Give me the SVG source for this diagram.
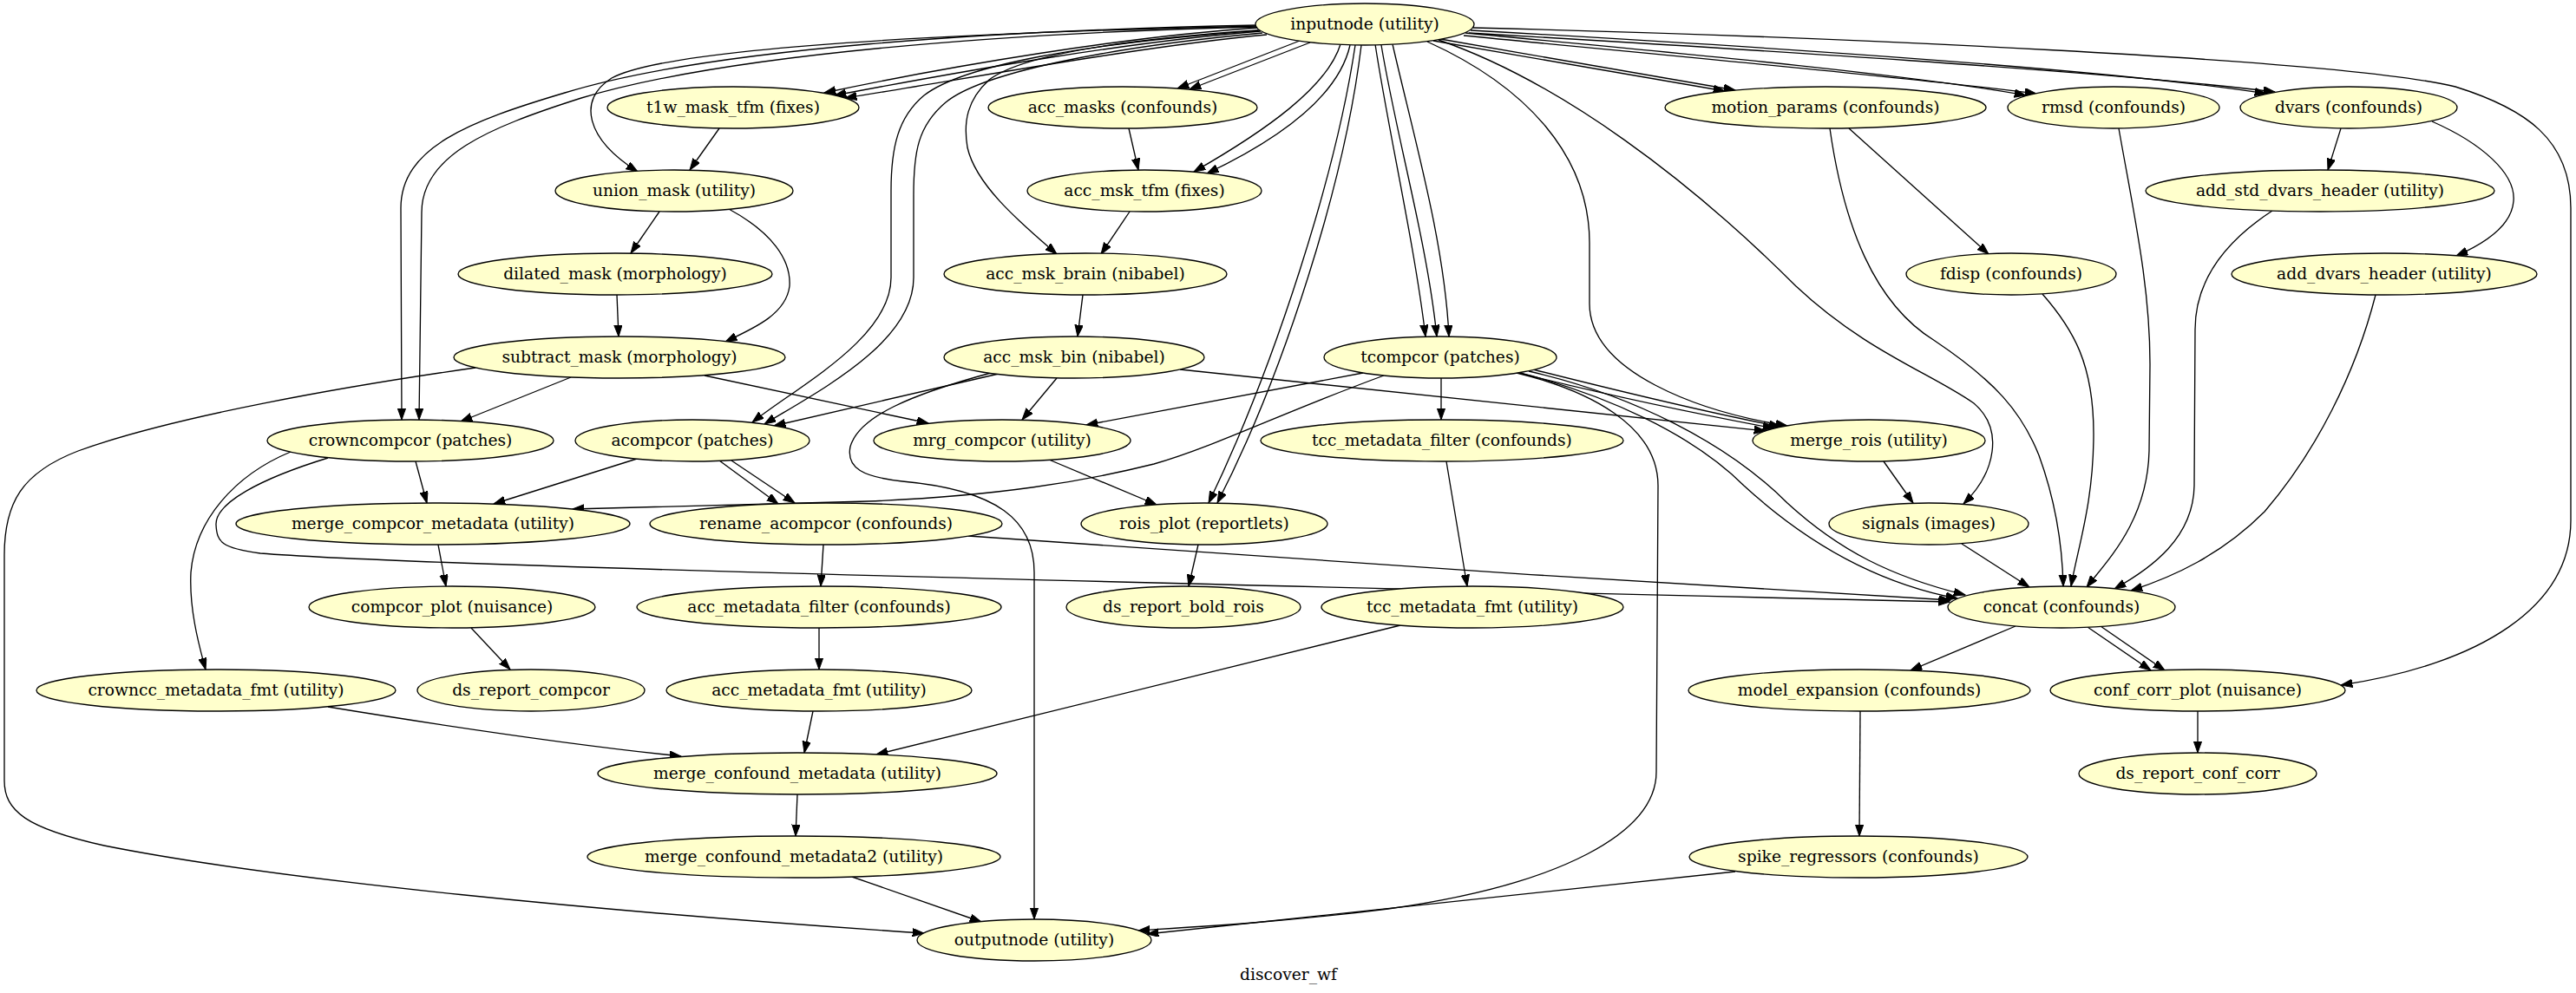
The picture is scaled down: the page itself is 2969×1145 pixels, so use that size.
<svg xmlns="http://www.w3.org/2000/svg" width="2969" height="1145" viewBox="0 0 2969 1145">
<style>
.node ellipse{fill:#ffffcc;stroke:#000;stroke-width:1.33}
.node text,.lbl{font-family:"DejaVu Serif","Liberation Serif",serif;font-size:18.67px;text-anchor:middle;fill:#000}
#edges path{fill:none;stroke:#000;stroke-width:1.33;marker-end:url(#ah)}
</style>
<defs>
<marker id="ah" markerUnits="userSpaceOnUse" markerWidth="14" markerHeight="10" refX="13.3" refY="4.7" orient="auto"><path d="M0,0 L13.3,4.7 L0,9.4 z" fill="#000" stroke="#000" stroke-width="1"/></marker>
</defs>
<rect width="2969" height="1145" fill="#fff"/>
<g id="edges">
<path d="M1450,32 C1300,42 1100,75 950,107"/>
<path d="M1453,36 C1300,48 1110,82 962,110"/>
<path d="M1460,40 C1310,54 1120,90 974,113"/>
<path d="M1449,30 C1100,38 770,55 705,90 C665,115 675,160 735,198"/>
<path d="M1449,29 C1150,35 820,55 651,107 C540,140 462,170 462,240 L463,484"/>
<path d="M1449,31 C1160,38 840,62 670,113 C560,148 486,180 486,245 L483,484"/>
<path d="M1452,35 C1250,50 1110,75 1065,110 C1035,135 1027,170 1027,220 L1027,320 C1027,390 920,445 867,487"/>
<path d="M1455,38 C1270,55 1130,85 1090,118 C1058,145 1053,175 1053,225 L1053,320 C1053,395 945,450 881,489"/>
<path d="M1450,35 C1300,45 1180,62 1140,92 C1115,115 1110,140 1115,170 C1125,215 1180,260 1218,293"/>
<path d="M1498,47 L1357,102"/>
<path d="M1510,49 L1371,103"/>
<path d="M1545,51 C1530,100 1460,150 1376,198"/>
<path d="M1556,52 C1543,110 1475,160 1391,200"/>
<path d="M1562,52 C1540,200 1470,420 1393,580"/>
<path d="M1569,52 C1550,210 1480,430 1403,580"/>
<path d="M1585,51 C1600,150 1630,280 1643,388"/>
<path d="M1592,52 C1610,160 1645,280 1656,388"/>
<path d="M1605,51 C1630,160 1665,280 1670,388"/>
<path d="M1645,48 C1760,100 1832,180 1832,280 L1832,350 C1832,430 1960,475 2060,491"/>
<path d="M1658,46 C1800,95 1950,210 2070,330 C2150,405 2225,430 2275,465 C2310,495 2300,545 2263,581"/>
<path d="M1652,47 L1988,105"/>
<path d="M1660,45 L2000,104"/>
<path d="M1689,38 C1900,58 2200,85 2335,110"/>
<path d="M1687,41 C1900,62 2210,90 2347,108"/>
<path d="M1695,35 C2000,52 2420,78 2612,108"/>
<path d="M1693,38 C2000,56 2430,82 2622,106"/>
<path d="M1698,32 C2100,42 2700,68 2830,100 C2910,125 2963,160 2963,240 L2963,600 C2963,700 2860,765 2698,790"/>
<path d="M829,148 L795,196"/>
<path d="M760,244 L727,292"/>
<path d="M840,241 C890,268 912,300 910,330 C906,362 870,378 836,394"/>
<path d="M711,340 L713,388"/>
<path d="M1301,148 L1312,196"/>
<path d="M1302,244 L1269,293"/>
<path d="M1248,340 L1242,388"/>
<path d="M2131,148 L2292,293"/>
<path d="M2109,148 C2125,260 2160,350 2230,393 C2300,440 2330,475 2350,525 C2370,580 2377,630 2378,676"/>
<path d="M2354,339 C2390,380 2413,420 2413,500 C2413,580 2395,630 2387,676"/>
<path d="M2442,148 C2460,250 2478,330 2478,420 L2477,520 C2475,600 2430,645 2405,677"/>
<path d="M2698,148 L2683,196"/>
<path d="M2803,140 C2860,165 2900,200 2897,232 C2895,258 2870,278 2831,295"/>
<path d="M2619,243 C2570,275 2530,320 2530,380 L2529,560 C2528,620 2480,655 2437,679"/>
<path d="M2738,340 C2715,430 2670,520 2610,590 C2560,640 2505,665 2456,681"/>
<path d="M2261,627 L2339,677"/>
<path d="M2171,532 L2205,580"/>
<path d="M1661,436 L1661,484"/>
<path d="M1750,430 C1850,455 1960,478 2045,494"/>
<path d="M1767,426 C1870,452 1970,476 2052,492"/>
<path d="M1762,428 C1880,455 1990,510 2060,580 C2120,635 2180,665 2265,686"/>
<path d="M1752,430 C1850,455 1950,500 2010,560 C2070,615 2150,670 2256,690"/>
<path d="M1748,430 C1830,450 1911,490 1911,560 L1909,890 C1909,960 1800,1020 1600,1048 C1480,1063 1390,1068 1312,1073"/>
<path d="M1571,430 L1252,490"/>
<path d="M1595,433 C1480,475 1400,515 1330,535 C1250,555 1150,572 1000,578 C850,582 740,584 660,587"/>
<path d="M1218,436 L1178,484"/>
<path d="M1151,431 L892,491"/>
<path d="M1360,426 L2035,497"/>
<path d="M1142,430 C1050,455 990,480 980,515 C975,540 995,550 1040,555 C1150,565 1192,600 1192,660 L1192,1060"/>
<path d="M658,435 L531,486"/>
<path d="M812,433 L1070,488"/>
<path d="M548,424 C400,445 200,480 90,520 C25,545 5,580 5,640 L5,900 C5,935 30,955 120,975 C320,1015 700,1052 1065,1076"/>
<path d="M479,532 L492,580"/>
<path d="M335,521 C270,548 225,600 220,660 C218,700 228,740 237,772"/>
<path d="M378,528 C300,552 248,580 249,605 C250,625 255,632 300,638 C450,650 1000,665 2247,694"/>
<path d="M1116,618 C1400,640 1900,672 2248,692"/>
<path d="M734,529 L569,581"/>
<path d="M829,531 L897,581"/>
<path d="M843,531 L916,580"/>
<path d="M1209,530 L1333,582"/>
<path d="M505,628 L514,676"/>
<path d="M543,724 L588,772"/>
<path d="M949,628 L946,676"/>
<path d="M944,724 L944,772"/>
<path d="M937,820 L927,868"/>
<path d="M1381,628 L1370,676"/>
<path d="M1667,532 L1691,676"/>
<path d="M1614,721 L1010,870"/>
<path d="M378,815 C500,835 650,858 785,872"/>
<path d="M919,916 L917,964"/>
<path d="M982,1011 L1131,1063"/>
<path d="M2000,1005 L1322,1077"/>
<path d="M2323,722 L2202,773"/>
<path d="M2406,723 L2479,773"/>
<path d="M2421,722 L2495,773"/>
<path d="M2144,820 L2143,964"/>
<path d="M2533,820 L2533,868"/>
</g>
<g id="n_inputnode" class="node"><ellipse cx="1573" cy="28" rx="126" ry="24"/><text x="1573" y="34">inputnode (utility)</text></g>
<g id="n_t1w_mask_tfm" class="node"><ellipse cx="845" cy="124" rx="145" ry="24"/><text x="845" y="130">t1w_mask_tfm (fixes)</text></g>
<g id="n_acc_masks" class="node"><ellipse cx="1294" cy="124" rx="155" ry="24"/><text x="1294" y="130">acc_masks (confounds)</text></g>
<g id="n_motion_params" class="node"><ellipse cx="2104" cy="124" rx="185" ry="24"/><text x="2104" y="130">motion_params (confounds)</text></g>
<g id="n_rmsd" class="node"><ellipse cx="2436" cy="124" rx="122" ry="24"/><text x="2436" y="130">rmsd (confounds)</text></g>
<g id="n_dvars" class="node"><ellipse cx="2707" cy="124" rx="125" ry="24"/><text x="2707" y="130">dvars (confounds)</text></g>
<g id="n_union_mask" class="node"><ellipse cx="777" cy="220" rx="137" ry="24"/><text x="777" y="226">union_mask (utility)</text></g>
<g id="n_acc_msk_tfm" class="node"><ellipse cx="1319" cy="220" rx="135" ry="24"/><text x="1319" y="226">acc_msk_tfm (fixes)</text></g>
<g id="n_add_std_dvars_header" class="node"><ellipse cx="2674" cy="220" rx="201" ry="24"/><text x="2674" y="226">add_std_dvars_header (utility)</text></g>
<g id="n_dilated_mask" class="node"><ellipse cx="709" cy="316" rx="181" ry="24"/><text x="709" y="322">dilated_mask (morphology)</text></g>
<g id="n_acc_msk_brain" class="node"><ellipse cx="1251" cy="316" rx="163" ry="24"/><text x="1251" y="322">acc_msk_brain (nibabel)</text></g>
<g id="n_fdisp" class="node"><ellipse cx="2318" cy="316" rx="121" ry="24"/><text x="2318" y="322">fdisp (confounds)</text></g>
<g id="n_add_dvars_header" class="node"><ellipse cx="2748" cy="316" rx="176" ry="24"/><text x="2748" y="322">add_dvars_header (utility)</text></g>
<g id="n_subtract_mask" class="node"><ellipse cx="714" cy="412" rx="191" ry="24"/><text x="714" y="418">subtract_mask (morphology)</text></g>
<g id="n_acc_msk_bin" class="node"><ellipse cx="1238" cy="412" rx="150" ry="24"/><text x="1238" y="418">acc_msk_bin (nibabel)</text></g>
<g id="n_tcompcor" class="node"><ellipse cx="1660" cy="412" rx="134" ry="24"/><text x="1660" y="418">tcompcor (patches)</text></g>
<g id="n_crowncompcor" class="node"><ellipse cx="473" cy="508" rx="165" ry="24"/><text x="473" y="514">crowncompcor (patches)</text></g>
<g id="n_acompcor" class="node"><ellipse cx="798" cy="508" rx="135" ry="24"/><text x="798" y="514">acompcor (patches)</text></g>
<g id="n_mrg_compcor" class="node"><ellipse cx="1155" cy="508" rx="148" ry="24"/><text x="1155" y="514">mrg_compcor (utility)</text></g>
<g id="n_tcc_metadata_filter" class="node"><ellipse cx="1662" cy="508" rx="209" ry="24"/><text x="1662" y="514">tcc_metadata_filter (confounds)</text></g>
<g id="n_merge_rois" class="node"><ellipse cx="2154" cy="508" rx="134" ry="24"/><text x="2154" y="514">merge_rois (utility)</text></g>
<g id="n_merge_compcor_metadata" class="node"><ellipse cx="499" cy="604" rx="227" ry="24"/><text x="499" y="610">merge_compcor_metadata (utility)</text></g>
<g id="n_rename_acompcor" class="node"><ellipse cx="952" cy="604" rx="203" ry="24"/><text x="952" y="610">rename_acompcor (confounds)</text></g>
<g id="n_rois_plot" class="node"><ellipse cx="1388" cy="604" rx="142" ry="24"/><text x="1388" y="610">rois_plot (reportlets)</text></g>
<g id="n_signals" class="node"><ellipse cx="2223" cy="604" rx="115" ry="24"/><text x="2223" y="610">signals (images)</text></g>
<g id="n_compcor_plot" class="node"><ellipse cx="521" cy="700" rx="165" ry="24"/><text x="521" y="706">compcor_plot (nuisance)</text></g>
<g id="n_acc_metadata_filter" class="node"><ellipse cx="944" cy="700" rx="210" ry="24"/><text x="944" y="706">acc_metadata_filter (confounds)</text></g>
<g id="n_ds_report_bold_rois" class="node"><ellipse cx="1364" cy="700" rx="135" ry="24"/><text x="1364" y="706">ds_report_bold_rois</text></g>
<g id="n_tcc_metadata_fmt" class="node"><ellipse cx="1697" cy="700" rx="174" ry="24"/><text x="1697" y="706">tcc_metadata_fmt (utility)</text></g>
<g id="n_concat" class="node"><ellipse cx="2376" cy="700" rx="131" ry="24"/><text x="2376" y="706">concat (confounds)</text></g>
<g id="n_crowncc_metadata_fmt" class="node"><ellipse cx="249" cy="796" rx="207" ry="24"/><text x="249" y="802">crowncc_metadata_fmt (utility)</text></g>
<g id="n_ds_report_compcor" class="node"><ellipse cx="612" cy="796" rx="131" ry="24"/><text x="612" y="802">ds_report_compcor</text></g>
<g id="n_acc_metadata_fmt" class="node"><ellipse cx="944" cy="796" rx="176" ry="24"/><text x="944" y="802">acc_metadata_fmt (utility)</text></g>
<g id="n_model_expansion" class="node"><ellipse cx="2143" cy="796" rx="197" ry="24"/><text x="2143" y="802">model_expansion (confounds)</text></g>
<g id="n_conf_corr_plot" class="node"><ellipse cx="2533" cy="796" rx="170" ry="24"/><text x="2533" y="802">conf_corr_plot (nuisance)</text></g>
<g id="n_merge_confound_metadata" class="node"><ellipse cx="919" cy="892" rx="230" ry="24"/><text x="919" y="898">merge_confound_metadata (utility)</text></g>
<g id="n_ds_report_conf_corr" class="node"><ellipse cx="2533" cy="892" rx="137" ry="24"/><text x="2533" y="898">ds_report_conf_corr</text></g>
<g id="n_merge_confound_metadata2" class="node"><ellipse cx="915" cy="988" rx="238" ry="24"/><text x="915" y="994">merge_confound_metadata2 (utility)</text></g>
<g id="n_spike_regressors" class="node"><ellipse cx="2142" cy="988" rx="195" ry="24"/><text x="2142" y="994">spike_regressors (confounds)</text></g>
<g id="n_outputnode" class="node"><ellipse cx="1192" cy="1084" rx="135" ry="24"/><text x="1192" y="1090">outputnode (utility)</text></g>
<text class="lbl" x="1485" y="1130">discover_wf</text>
</svg>
